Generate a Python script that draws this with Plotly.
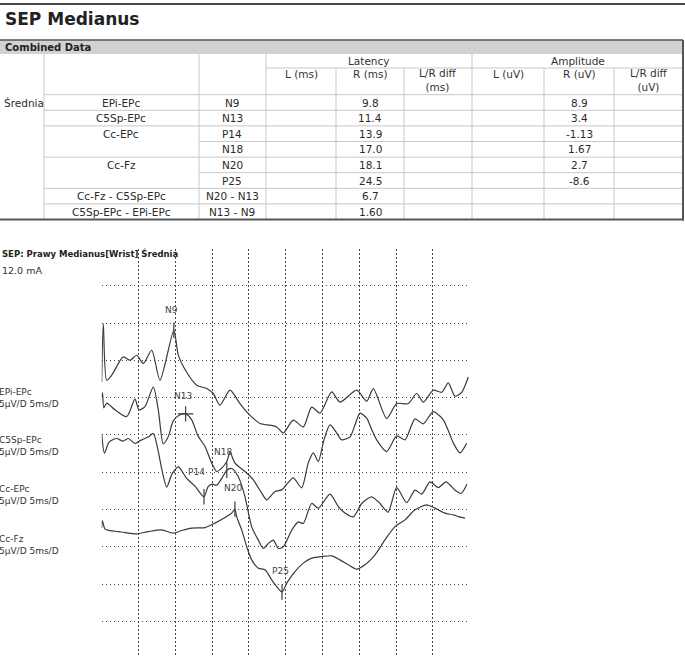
import numpy as np
import plotly.graph_objects as go

W, H = 685, 656
FONT = "DejaVu Sans"

# -----------------------------
# Table data (Combined Data)
# -----------------------------
row_group = ["EPi-EPc", "C5Sp-EPc", "Cc-EPc", "", "Cc-Fz", "", "Cc-Fz - C5Sp-EPc", "C5Sp-EPc - EPi-EPc"]
row_peak = ["N9", "N13", "P14", "N18", "N20", "P25", "N20 - N13", "N13 - N9"]
lat_r = ["9.8", "11.4", "13.9", "17.0", "18.1", "24.5", "6.7", "1.60"]
amp_r = ["8.9", "3.4", "-1.13", "1.67", "2.7", "-8.6", "", ""]
sub_headers = ["L (ms)", "R (ms)", "L/R diff<br>(ms)", "L (uV)", "R (uV)", "L/R diff<br>(uV)"]

# -----------------------------
# Waveforms: time (ms) and amplitude (uV, relative to trace start)
# -----------------------------
labels = ["EPi-EPc", "C5Sp-EPc", "Cc-EPc", "Cc-Fz"]

epi_t = [0, 0.22, 0.68, 1.36, 2.93, 3.85, 4.76, 5.65, 6.79, 7.92, 9.8, 10.41, 11.55, 12.91,
         14.27, 15.16, 16.07, 17.43, 18.78, 19.92, 21.51, 22.87, 23.78, 24.67, 26.03, 27.39,
         28.53, 29.66, 31.25, 32.38, 34.65, 36.01, 36.9, 38.72, 40.08, 41.66, 42.8, 43.7,
         45.05, 46.2, 47.09, 48.0, 48.91, 49.81]
epi_v = [0, 7.83, 0.23, 0.9, 3.35, 2.91, 3.58, 2.47, 4.25, 0.23, 6.93, 3.6, 1.3, -0.44,
         -0.88, -1.55, -3.12, -1.11, -2.9, -4.24, -5.58, -5.8, -6.03, -6.84, -5.13, -6.03,
         -3.38, -4.18, -1.34, -2.71, -1.11, -2.59, -0.89, -4.91, -2.9, -2.9, -1.55, -2.71,
         -1.11, -1.39, -0.13, -1.92, -1.39, 0.67]

c5_t = [0, 0.11, 0.29, 0.68, 1.81, 3.4, 4.52, 5.07, 5.88, 7.01, 7.69, 8.37, 9.05, 9.73,
        10.64, 11.4, 12.23, 13.08, 14.04, 14.95, 15.63, 16.34, 16.98, 17.43, 18.11, 19.47,
        20.6, 21.74, 22.42, 23.55, 24.46, 25.18, 26.03, 27.17, 28.07, 28.75, 29.43, 30.2,
        31.02, 31.83, 32.61, 33.74, 34.42, 35.09, 36.01, 36.59, 37.36, 38.72, 40.08, 41.21,
        42.57, 43.7, 45.05, 46.41, 47.05, 47.77, 48.68, 49.59]
c5_v = [0, 0.54, -1.47, -0.84, -1.74, -2.64, -0.31, -1.74, -1.3, 1.3, -1.74, -6.29, -5.32,
        -3.22, -2.41, -2.28, -3.08, -5.23, -6.66, -8.89, -10.01, -9.52, -8.71, -7.44, -8.89,
        -10.01, -11.13, -12.91, -13.81, -12.69, -12.47, -11.66, -10.86, -12.2, -8.85, -7.51,
        -8.67, -5.76, -3.75, -4.69, -5.76, -5.36, -3.75, -2.18, -2.86, -4.16, -5.76, -7.33,
        -5.23, -5.76, -2.95, -3.62, -1.97, -3.08, -4.42, -6.17, -7.51, -6.21]

cc_t = [0, 0.38, 0.99, 2.04, 2.89, 3.61, 4.52, 5.34, 6.33, 7.01, 7.65, 8.19, 8.83, 9.55,
        10.41, 11.55, 12.68, 13.9, 14.44, 14.99, 15.63, 16.34, 17.0, 17.66, 18.56, 19.47,
        20.38, 21.28, 21.96, 22.64, 23.32, 24.0, 24.67, 25.82, 26.71, 27.39, 28.53, 29.43,
        31.02, 32.11, 32.83, 34.18, 35.33, 36.68, 37.81, 38.9, 40.08, 41.44, 42.57, 43.48,
        44.61, 45.73, 46.78, 48.0, 48.82, 49.63]
cc_v = [0, -2.55, -1.07, -0.58, -0.94, -0.58, -1.25, -0.8, -0.36, 0.09, -2.14, -4.83, -7.1,
        -5.36, -4.38, -5.94, -6.97, -8.4, -7.06, -6.7, -6.84, -5.9, -4.83, -4.6, -5.72, -8.4,
        -12.43, -14.21, -15.32, -14.65, -14.21, -15.32, -15.1, -12.86, -11.75, -11.97, -9.29,
        -9.92, -8.04, -9.65, -10.41, -11.08, -9.29, -8.4, -9.29, -10.46, -7.17, -9.18, -7.51,
        -8.04, -6.39, -7.17, -6.39, -7.51, -7.95, -6.7]

fz_t = [0, 0.08, 0.45, 1.13, 2.26, 3.17, 4.76, 6.33, 8.15, 9.73, 10.87, 12.23, 14.04, 15.39,
        16.98, 17.66, 18.1, 18.34, 19.02, 19.7, 20.38, 21.28, 22.19, 23.1, 24.5, 25.14, 26.26,
        27.39, 28.53, 29.89, 31.25, 32.38, 33.51, 34.65, 35.77, 37.13, 38.49, 39.85, 41.21,
        42.57, 44.16, 45.29, 46.64, 47.77, 48.45, 49.36]
fz_v = [0, 1.02, -0.13, -0.32, -0.46, -0.59, -0.76, -0.46, -0.23, -0.67, -0.32, 0, 0.08, 0.67,
        1.55, 2.01, 2.55, 1.55, -0.23, -2.47, -4.25, -5.36, -5.59, -6.93, -8.55, -7.37, -5.82,
        -4.69, -4.02, -3.8, -3.71, -4.25, -4.92, -5.5, -4.92, -3.58, -1.57, 0.21, 1.11, 2.45,
        3.12, 2.68, 2.01, 1.78, 1.55, 1.34]

# peak markers (latency from table, trace index)
peak_names = ["N9", "N13", "P14", "N18", "N20", "P25"]
peak_lat = [9.8, 11.4, 13.9, 17.0, 18.1, 24.5]
peak_trace = [0, 1, 2, 2, 3, 3]

# -----------------------------
# layout constants
# -----------------------------
trace_offsets = [-12.9, -14.9, -19.9, -32.5]   # display level of each channel
px_uv = 7.46
plot_left, plot_right, plot_top = 101.7, 469.7, 249
y_top = (285.7 - plot_top) / px_uv
y_bot = -(H - 285.7) / px_uv
INK = "#3a3a3a"


def xp(x):
    return x / W


def yp(y):
    return 1 - y / H


fig = go.Figure()

waves = [(epi_t, epi_v), (c5_t, c5_v), (cc_t, cc_v), (fz_t, fz_v)]
for (t, v), off in zip(waves, trace_offsets):
    fig.add_trace(go.Scatter(
        x=t, y=[a + off for a in v], mode="lines",
        line=dict(color=INK, width=1.2, shape="spline", smoothing=0.7),
        hoverinfo="skip", showlegend=False))

# peak ticks
label_shift = {"N9": (-2, 20), "N13": (-3, 18), "P14": (-8, 25), "N18": (-4, 18),
               "N20": (-2, 21), "P25": (-2, 21)}
for name, lat, ti in zip(peak_names, peak_lat, peak_trace):
    t, v = waves[ti]
    yv = float(np.interp(lat, t, v)) + trace_offsets[ti]
    sym = "cross-thin-open" if name == "N13" else "line-ns-open"
    fig.add_trace(go.Scatter(
        x=[lat], y=[yv], mode="markers",
        marker=dict(symbol=sym, size=11, color=INK, line=dict(color=INK, width=1.2)),
        hoverinfo="skip", showlegend=False))
    dx, dy = label_shift[name]
    fig.add_annotation(x=lat, y=yv, text=name, showarrow=False, xshift=dx, yshift=dy,
                       font=dict(family=FONT, size=9, color="#444"))

# channel labels
label_y = [392, 440, 489, 539]
for lab, ly in zip(labels, label_y):
    fig.add_annotation(x=xp(-3), y=yp(ly), xref="paper", yref="paper", text=lab,
                       xanchor="left", yanchor="middle", showarrow=False,
                       font=dict(family=FONT, size=9, color="#333"))
    fig.add_annotation(x=xp(-3), y=yp(ly + 12), xref="paper", yref="paper", text="5µV/D 5ms/D",
                       xanchor="left", yanchor="middle", showarrow=False,
                       font=dict(family=FONT, size=9, color="#333"))

fig.add_annotation(x=0, y=yp(253), xref="paper", yref="paper",
                   text="<b>SEP: Prawy Medianus[Wrist] Średnia</b>", xanchor="left",
                   yanchor="middle", showarrow=False, font=dict(family=FONT, size=8.5, color="#222"))
fig.add_annotation(x=0, y=yp(270), xref="paper", yref="paper", text="12.0 mA",
                   xanchor="left", yanchor="middle", showarrow=False,
                   font=dict(family=FONT, size=9.5, color="#333"))

# -----------------------------
# Report header + table
# -----------------------------
shapes = []


def hline(y, x0, x1, color="#c8c8c8", w=1):
    shapes.append(dict(type="line", xref="paper", yref="paper", x0=xp(x0), x1=xp(x1),
                       y0=yp(y), y1=yp(y), line=dict(color=color, width=w)))


def vline(x, y0, y1, color="#c8c8c8", w=1):
    shapes.append(dict(type="line", xref="paper", yref="paper", x0=xp(x), x1=xp(x),
                       y0=yp(y0), y1=yp(y1), line=dict(color=color, width=w)))


def text(x, y, s, size=10.5, anchor="center", bold=False, color="#2a2a2a"):
    if bold:
        s = "<b>" + s + "</b>"
    fig.add_annotation(x=xp(x), y=yp(y), xref="paper", yref="paper", text=s, showarrow=False,
                       xanchor=anchor, yanchor="middle",
                       font=dict(family=FONT, size=size, color=color))


hline(4, 0, W, "#4a4a4a", 2)
text(3, 19, "SEP Medianus", size=17, anchor="left", bold=True, color="#222")

# Combined Data band
shapes.append(dict(type="rect", xref="paper", yref="paper", x0=0, x1=xp(683), y0=yp(54), y1=yp(40),
                   fillcolor="#d2d2d2", line=dict(width=0), layer="below"))
hline(40, 0, 683, "#555", 1.5)
text(3, 47, "Combined Data", size=10, anchor="left", bold=True, color="#222")

col_x = [44, 199, 266, 336, 404, 472, 544, 614, 683]
head_bot = 94.7
row_h = 15.6
tbl_bot = head_bot + 8 * row_h

for x in [44, 199, 266, 472]:
    vline(x, 54, tbl_bot)
for x in [336, 404, 544, 614]:
    vline(x, 68, tbl_bot)
hline(68, 266, 683)
hline(head_bot, 44, 683)
for i in range(1, 8):
    x0 = 199 if row_group[i] == "" else 44
    hline(head_bot + i * row_h, x0, 683)
vline(683, 40, tbl_bot + 1, "#555", 2)
hline(tbl_bot, 0, 684, "#555", 2)

text(369, 61, "Latency", color="#333")
text(577.5, 61, "Amplitude", color="#333")
for i, s in enumerate(sub_headers):
    cx = (col_x[i + 2] + col_x[i + 3]) / 2
    text(cx, 80.5 if "<br>" in s else 74, s, color="#333")

text(2, head_bot + row_h / 2, "Średnia", anchor="left")
for i in range(8):
    cy = head_bot + (i + 0.5) * row_h
    if row_group[i]:
        text((col_x[0] + col_x[1]) / 2, cy, row_group[i])
    text((col_x[1] + col_x[2]) / 2, cy, row_peak[i])
    text((col_x[3] + col_x[4]) / 2, cy, lat_r[i])
    if amp_r[i]:
        text((col_x[6] + col_x[7]) / 2, cy, amp_r[i])

fig.update_layout(
    width=W, height=H, margin=dict(l=0, r=0, t=0, b=0),
    paper_bgcolor="white", plot_bgcolor="white", shapes=shapes,
    xaxis=dict(domain=[xp(plot_left), xp(plot_right)], range=[0, 50],
               tickvals=[5, 10, 15, 20, 25, 30, 35, 40, 45], showticklabels=False,
               showgrid=True, gridcolor="#444", gridwidth=1.3, griddash="1.5px,2.5px",
               zeroline=False, showline=False, ticks=""),
    yaxis=dict(domain=[0, yp(plot_top)], range=[y_bot, y_top],
               tickvals=[0, -5, -10, -15, -20, -25, -30, -35, -40, -45], showticklabels=False,
               showgrid=True, gridcolor="#444", gridwidth=1.3, griddash="1.5px,2.5px",
               zeroline=False, showline=False, ticks=""),
)

# page body has a default 8px margin; remove it so the figure sits at the window corner
fig.write_html("out.html", config={"displayModeBar": False},
               post_script="document.body.style.margin='0';document.body.style.overflow='hidden';")
